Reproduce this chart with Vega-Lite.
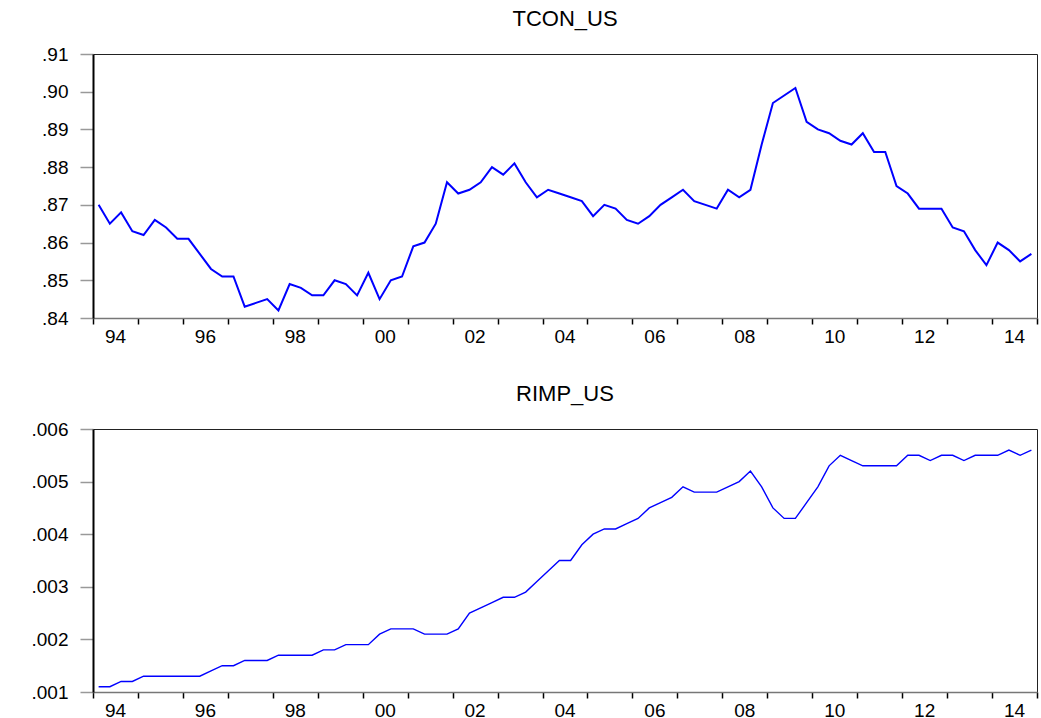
{
  "$schema": "https://vega.github.io/schema/vega-lite/v6.json",
  "padding": {"left": 30, "top": 7, "right": 0, "bottom": 0},
  "background": "white",
  "spacing": 35,
  "config": {
    "font": "Liberation Sans",
    "view": {"stroke": "#222", "strokeWidth": 1},
    "title": {"font": "Liberation Sans", "fontSize": 22, "fontWeight": "normal", "color": "black", "offset": 14},
    "axis": {"labelFont": "Liberation Sans", "labelFontSize": 19, "labelColor": "black", "grid": false, "title": null}
  },
  "data": {"values": [
    {"t":1994.125,"tcon":0.870,"rimp":0.0011},{"t":1994.375,"tcon":0.865,"rimp":0.0011},{"t":1994.625,"tcon":0.868,"rimp":0.0012},{"t":1994.875,"tcon":0.863,"rimp":0.0012},
    {"t":1995.125,"tcon":0.862,"rimp":0.0013},{"t":1995.375,"tcon":0.866,"rimp":0.0013},{"t":1995.625,"tcon":0.864,"rimp":0.0013},{"t":1995.875,"tcon":0.861,"rimp":0.0013},
    {"t":1996.125,"tcon":0.861,"rimp":0.0013},{"t":1996.375,"tcon":0.857,"rimp":0.0013},{"t":1996.625,"tcon":0.853,"rimp":0.0014},{"t":1996.875,"tcon":0.851,"rimp":0.0015},
    {"t":1997.125,"tcon":0.851,"rimp":0.0015},{"t":1997.375,"tcon":0.843,"rimp":0.0016},{"t":1997.625,"tcon":0.844,"rimp":0.0016},{"t":1997.875,"tcon":0.845,"rimp":0.0016},
    {"t":1998.125,"tcon":0.842,"rimp":0.0017},{"t":1998.375,"tcon":0.849,"rimp":0.0017},{"t":1998.625,"tcon":0.848,"rimp":0.0017},{"t":1998.875,"tcon":0.846,"rimp":0.0017},
    {"t":1999.125,"tcon":0.846,"rimp":0.0018},{"t":1999.375,"tcon":0.850,"rimp":0.0018},{"t":1999.625,"tcon":0.849,"rimp":0.0019},{"t":1999.875,"tcon":0.846,"rimp":0.0019},
    {"t":2000.125,"tcon":0.852,"rimp":0.0019},{"t":2000.375,"tcon":0.845,"rimp":0.0021},{"t":2000.625,"tcon":0.850,"rimp":0.0022},{"t":2000.875,"tcon":0.851,"rimp":0.0022},
    {"t":2001.125,"tcon":0.859,"rimp":0.0022},{"t":2001.375,"tcon":0.860,"rimp":0.0021},{"t":2001.625,"tcon":0.865,"rimp":0.0021},{"t":2001.875,"tcon":0.876,"rimp":0.0021},
    {"t":2002.125,"tcon":0.873,"rimp":0.0022},{"t":2002.375,"tcon":0.874,"rimp":0.0025},{"t":2002.625,"tcon":0.876,"rimp":0.0026},{"t":2002.875,"tcon":0.880,"rimp":0.0027},
    {"t":2003.125,"tcon":0.878,"rimp":0.0028},{"t":2003.375,"tcon":0.881,"rimp":0.0028},{"t":2003.625,"tcon":0.876,"rimp":0.0029},{"t":2003.875,"tcon":0.872,"rimp":0.0031},
    {"t":2004.125,"tcon":0.874,"rimp":0.0033},{"t":2004.375,"tcon":0.873,"rimp":0.0035},{"t":2004.625,"tcon":0.872,"rimp":0.0035},{"t":2004.875,"tcon":0.871,"rimp":0.0038},
    {"t":2005.125,"tcon":0.867,"rimp":0.0040},{"t":2005.375,"tcon":0.870,"rimp":0.0041},{"t":2005.625,"tcon":0.869,"rimp":0.0041},{"t":2005.875,"tcon":0.866,"rimp":0.0042},
    {"t":2006.125,"tcon":0.865,"rimp":0.0043},{"t":2006.375,"tcon":0.867,"rimp":0.0045},{"t":2006.625,"tcon":0.870,"rimp":0.0046},{"t":2006.875,"tcon":0.872,"rimp":0.0047},
    {"t":2007.125,"tcon":0.874,"rimp":0.0049},{"t":2007.375,"tcon":0.871,"rimp":0.0048},{"t":2007.625,"tcon":0.870,"rimp":0.0048},{"t":2007.875,"tcon":0.869,"rimp":0.0048},
    {"t":2008.125,"tcon":0.874,"rimp":0.0049},{"t":2008.375,"tcon":0.872,"rimp":0.0050},{"t":2008.625,"tcon":0.874,"rimp":0.0052},{"t":2008.875,"tcon":0.886,"rimp":0.0049},
    {"t":2009.125,"tcon":0.897,"rimp":0.0045},{"t":2009.375,"tcon":0.899,"rimp":0.0043},{"t":2009.625,"tcon":0.901,"rimp":0.0043},{"t":2009.875,"tcon":0.892,"rimp":0.0046},
    {"t":2010.125,"tcon":0.890,"rimp":0.0049},{"t":2010.375,"tcon":0.889,"rimp":0.0053},{"t":2010.625,"tcon":0.887,"rimp":0.0055},{"t":2010.875,"tcon":0.886,"rimp":0.0054},
    {"t":2011.125,"tcon":0.889,"rimp":0.0053},{"t":2011.375,"tcon":0.884,"rimp":0.0053},{"t":2011.625,"tcon":0.884,"rimp":0.0053},{"t":2011.875,"tcon":0.875,"rimp":0.0053},
    {"t":2012.125,"tcon":0.873,"rimp":0.0055},{"t":2012.375,"tcon":0.869,"rimp":0.0055},{"t":2012.625,"tcon":0.869,"rimp":0.0054},{"t":2012.875,"tcon":0.869,"rimp":0.0055},
    {"t":2013.125,"tcon":0.864,"rimp":0.0055},{"t":2013.375,"tcon":0.863,"rimp":0.0054},{"t":2013.625,"tcon":0.858,"rimp":0.0055},{"t":2013.875,"tcon":0.854,"rimp":0.0055},
    {"t":2014.125,"tcon":0.860,"rimp":0.0055},{"t":2014.375,"tcon":0.858,"rimp":0.0056},{"t":2014.625,"tcon":0.855,"rimp":0.0055},{"t":2014.875,"tcon":0.857,"rimp":0.0056}
  ]},
  "vconcat": [
    {
      "width": 944,
      "height": 264,
      "title": "TCON_US",
      "mark": {"type": "line", "color": "#0000FF", "strokeWidth": 2},
      "encoding": {
        "x": {"field": "t", "type": "quantitative",
              "scale": {"domain": [1994, 2015], "nice": false, "zero": false},
              "axis": {"values": [1994,1995,1996,1997,1998,1999,2000,2001,2002,2003,2004,2005,2006,2007,2008,2009,2010,2011,2012,2013,2014,2015],
                       "labelExpr": "(datum.value % 2 == 0 && datum.value < 2015) ? format(datum.value % 100, '02d') : ''",
                       "labelOffset": 22, "labelFlush": false, "labelOverlap": false, "labelBound": false,
                       "tickSize": 6, "tickColor": "black", "tickWidth": 1.5, "labelPadding": 3,
                       "domainColor": "#777", "domainWidth": 1.5}},
        "y": {"field": "tcon", "type": "quantitative",
              "scale": {"domain": [0.84, 0.91], "nice": false, "zero": false},
              "axis": {"values": [0.84,0.85,0.86,0.87,0.88,0.89,0.90,0.91],
                       "labelExpr": "replace(format(datum.value, '.2f'), '0.', '.')",
                       "tickSize": 13, "tickColor": "#999", "tickWidth": 1.5, "labelPadding": 12,
                       "domainColor": "black", "domainWidth": 2, "labelOverlap": false, "labelFlush": false}}
      }
    },
    {
      "width": 944,
      "height": 263,
      "title": "RIMP_US",
      "mark": {"type": "line", "color": "#0000FF", "strokeWidth": 1.4},
      "encoding": {
        "x": {"field": "t", "type": "quantitative",
              "scale": {"domain": [1994, 2015], "nice": false, "zero": false},
              "axis": {"values": [1994,1995,1996,1997,1998,1999,2000,2001,2002,2003,2004,2005,2006,2007,2008,2009,2010,2011,2012,2013,2014,2015],
                       "labelExpr": "(datum.value % 2 == 0 && datum.value < 2015) ? format(datum.value % 100, '02d') : ''",
                       "labelOffset": 22, "labelFlush": false, "labelOverlap": false, "labelBound": false,
                       "tickSize": 6, "tickColor": "black", "tickWidth": 1.5, "labelPadding": 3,
                       "domainColor": "#777", "domainWidth": 1.5}},
        "y": {"field": "rimp", "type": "quantitative",
              "scale": {"domain": [0.001, 0.006], "nice": false, "zero": false},
              "axis": {"values": [0.001,0.002,0.003,0.004,0.005,0.006],
                       "labelExpr": "replace(format(datum.value, '.3f'), '0.', '.')",
                       "tickSize": 13, "tickColor": "#999", "tickWidth": 1.5, "labelPadding": 12,
                       "domainColor": "black", "domainWidth": 2, "labelOverlap": false, "labelFlush": false}}
      }
    }
  ]
}
